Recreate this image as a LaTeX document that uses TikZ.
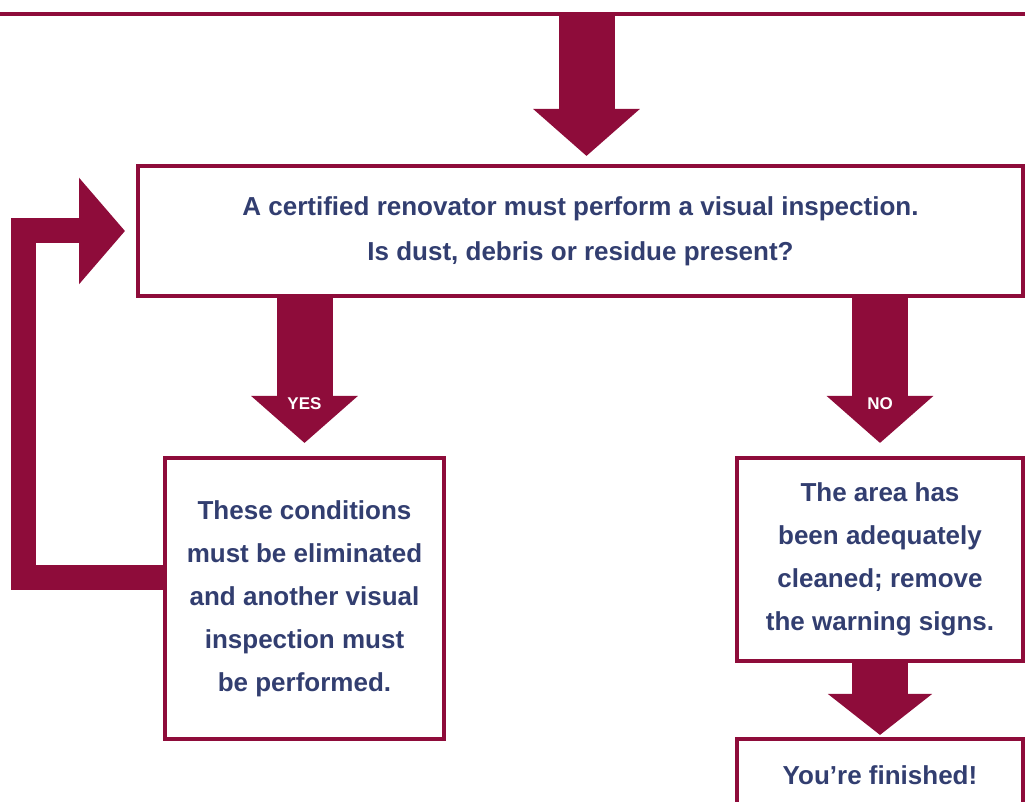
\documentclass[tikz,border=0pt]{standalone}
\usepackage{fontspec}
\setmainfont{Liberation Sans}
\usetikzlibrary{arrows.meta}
\definecolor{wine}{RGB}{142,12,58}
\definecolor{inkblue}{RGB}{50,62,112}

\begin{document}
\begin{tikzpicture}[x=.5pt,y=-.5pt,
		box/.style={draw=wine,line width=2pt,align=center,text=inkblue,inner sep=0pt,
			font=\fontsize{13}{21.5}\selectfont\bfseries},
		bigarrow/.style={wine,line width=28pt,-{Triangle[length=23.5pt,width=52pt]}},
		loopbar/.style={wine,line width=12.5pt,-{Triangle[length=23pt,width=52pt]}},
		answer/.style={text=white,font=\fontsize{8.5}{10}\selectfont\bfseries}]
	\useasboundingbox (0,0) rectangle (1025,802);
	% edge of the step above
	\draw[wine,line width=2pt] (0,14)--(1025,14);
	\coordinate (prev) at (586.5,14);
	\node[box,minimum width=442.5pt,minimum height=65pt,font=\fontsize{13}{22.5}\selectfont\bfseries] (inspect) at (580.5,231)
		{A certified renovator must perform a visual inspection.\\Is dust, debris or residue present?};
	\node[box,minimum width=139.5pt,minimum height=140.5pt] (cond) at (304.5,598.5)
		{These conditions\\must be eliminated\\and another visual\\inspection must\\be performed.};
	\node[box,minimum width=143pt,minimum height=101.5pt] (clean) at (880,559.5)
		{The area has\\been adequately\\cleaned; remove\\the warning signs.};
	\node[box,minimum width=143pt,minimum height=36pt] (done) at (880,775)
		{You're finished!};
	% arrows
	\draw[bigarrow,shorten >=4pt] (prev)--(prev |- inspect.north);
	\draw[bigarrow,shorten >=6.5pt] (inspect.south -| cond.north)--node[answer,pos=.67]{YES}(cond.north);
	\draw[bigarrow,shorten >=6.5pt] (inspect.south -| clean.north)--node[answer,pos=.67]{NO}(clean.north);
	\draw[bigarrow,-{Triangle[length=20.5pt,width=51pt]},shorten >=1pt] (clean)--(done);
	\draw[loopbar,shorten >=5.5pt] ([yshift=10.25pt]cond.west)--++(-139.5,0)|-(inspect.west);
\end{tikzpicture}
\end{document}
